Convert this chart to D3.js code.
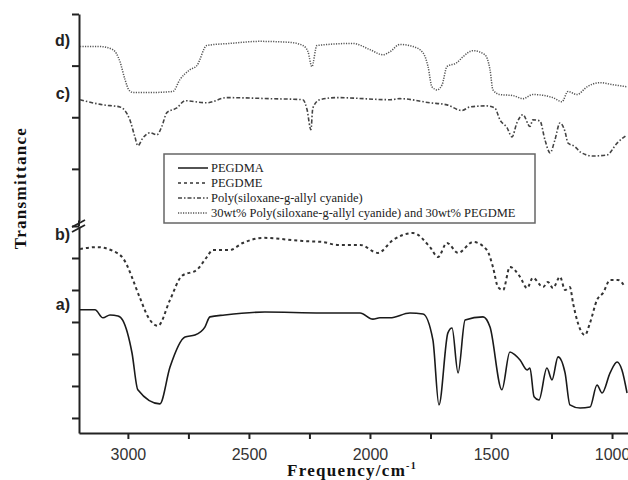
<!DOCTYPE html>
<meta charset="utf-8">
<style>
    body { margin: 0; background: #fff; }
    .tick text { font-family: "Liberation Sans", Arial, sans-serif; font-size: 16px; fill: #333; }
    .axis path, .axis line { stroke: #222; }
    .curve { fill: none; }
    .tag { font-family: "Liberation Sans", Arial, sans-serif; font-weight: bold; font-size: 16px; fill: #222; }
    .title { font-family: "Liberation Serif", "Times New Roman", serif; font-weight: bold; font-size: 17px; fill: #111; letter-spacing: 1.3px; }
    .legend text { font-family: "Liberation Serif", "Times New Roman", serif; font-size: 12.5px; fill: #222; }
</style>

<svg width="628" height="480"></svg>

<script src="https://d3js.org/d3.v7.min.js"></script>
<script>
// wavenumber (cm-1), transmittance (arbitrary, offset units)
var pegdma = [
    [3198,4.38],[3136,4.38],[3103,4.13],[3074,4.22],[3041,4.19],[3021,4.05],[2983,3.03],[2959,1.88],
    [2868,1.44],[2826,2.59],[2764,3.53],[2723,3.59],[2682,3.84],[2661,4.16],[2600,4.22],[2434,4.31],
    [2200,4.28],[2041,4.28],[1988,4.09],[1959,4.13],[1917,4.13],[1835,4.28],[1781,4.25],[1740,3.44],
    [1715,1.41],[1678,3.66],[1661,3.81],[1636,2.41],[1607,4.06],[1533,4.16],[1504,3.84],[1455,1.88],
    [1422,3.06],[1401,2.97],[1380,2.81],[1351,2.5],[1339,2.56],[1322,1.66],[1302,1.56],[1269,2.56],
    [1248,2.19],[1223,2.91],[1194,2.41],[1174,1.41],[1132,1.31],[1091,1.34],[1062,2.03],[1041,1.78],
    [1008,2.41],[979,2.75],[959,2.5],[938,1.78]
];
var pegdme = [
    [3198,6.28],[3128,6.34],[3062,6.22],[3021,6.0],[2950,4.75],[2917,4.16],[2876,3.88],[2826,4.69],
    [2777,5.44],[2715,5.63],[2674,6.03],[2649,6.25],[2579,6.25],[2525,6.47],[2442,6.63],[2277,6.53],
    [2194,6.5],[2136,6.41],[2041,6.41],[1967,6.16],[1905,6.56],[1822,6.78],[1752,6.34],[1719,6.03],
    [1682,6.47],[1636,6.16],[1574,6.5],[1517,6.25],[1492,5.72],[1471,5.09],[1450,5.0],[1422,5.72],
    [1380,5.41],[1351,5.06],[1327,5.38],[1285,5.09],[1265,5.25],[1244,5.06],[1215,5.41],[1194,5.0],
    [1174,5.09],[1161,4.59],[1141,3.97],[1112,3.59],[1091,3.97],[1062,4.69],[1037,4.91],[1008,5.31],
    [975,5.31],[946,5.09]
];
var siloxane = [
    [3198,2.34],[3103,2.24],[3033,2.2],[2992,1.95],[2971,1.62],[2959,1.45],[2938,1.6],[2909,1.7],
    [2880,1.66],[2860,1.82],[2839,2.09],[2798,2.18],[2764,2.32],[2674,2.28],[2591,2.38],[2413,2.36],
    [2277,2.34],[2260,2.15],[2244,1.76],[2236,2.18],[2207,2.34],[2136,2.38],[1917,2.34],[1876,2.36],
    [1752,2.28],[1682,2.24],[1620,2.13],[1587,2.2],[1517,2.22],[1484,2.18],[1463,1.95],[1434,1.8],
    [1413,1.62],[1393,1.89],[1368,2.05],[1339,1.82],[1327,1.95],[1298,1.93],[1277,1.56],[1256,1.31],
    [1236,1.56],[1215,1.89],[1194,1.72],[1182,1.5],[1153,1.43],[1132,1.33],[1079,1.25],[1021,1.27],
    [979,1.5],[938,1.66]
];
var blend = [
    [3198,3.37],[3116,3.37],[3062,3.31],[3033,3.08],[3012,2.73],[2996,2.53],[2979,2.48],[2897,2.48],
    [2814,2.5],[2785,2.73],[2744,2.92],[2715,3.0],[2674,3.39],[2579,3.43],[2455,3.47],[2331,3.45],
    [2277,3.39],[2256,3.27],[2240,2.98],[2219,3.39],[2070,3.43],[2000,3.31],[1946,3.21],[1917,3.27],
    [1876,3.41],[1822,3.37],[1781,3.25],[1760,2.98],[1744,2.59],[1723,2.53],[1702,2.63],[1682,2.98],
    [1640,3.06],[1616,3.17],[1574,3.29],[1525,3.21],[1504,2.92],[1492,2.53],[1463,2.44],[1409,2.42],
    [1368,2.36],[1327,2.44],[1244,2.38],[1207,2.3],[1182,2.5],[1145,2.44],[1103,2.59],[1050,2.67],
    [996,2.63],[938,2.59]
];
var xTicks = [3000, 2750, 2500, 2250, 2000, 1750, 1500, 1250, 1000];
var lowTicks = [1, 2, 3, 4, 5, 6, 7];
var highTicks = [1, 2, 3, 4];
var legendNames = ["PEGDMA", "PEGDME", "Poly(siloxane-g-allyl cyanide)",
    "30wt% Poly(siloxane-g-allyl cyanide) and 30wt% PEGDME"];
var tags = ["a)", "b)", "c)", "d)"];

var svg = d3.select("svg");
var mLeft = 79, mRight = 628, mBottom = 433, breakY = 222, mTop = 14;

var x = d3.scaleLinear().domain([3202, 934]).range([mLeft, mRight]);
var yLow = d3.scaleLinear().domain([0.53, 7]).range([mBottom, 226]);
var yHigh = d3.scaleLinear().domain([0, 4]).range([220.5, mTop]);

var styles = [
    { data: pegdma, y: yLow, color: "#1a1a1a", width: 1.6, dash: null, tagDy: 0 },
    { data: pegdme, y: yLow, color: "#333", width: 2, dash: "3,3", tagDy: -9 },
    { data: siloxane, y: yHigh, color: "#444", width: 1.6, dash: "4,2,1.5,2", tagDy: -1 },
    { data: blend, y: yHigh, color: "#555", width: 1.5, dash: "1.2,1.3", tagDy: -1 }
];

// x axis
var xAxis = svg.append("g").attr("class", "axis")
    .attr("transform", "translate(0," + mBottom + ")")
    .call(d3.axisBottom(x).tickValues(xTicks).tickSize(6).tickSizeOuter(0)
        .tickFormat(function(d) { return d % 500 === 0 ? d : ""; }));
xAxis.selectAll(".tick text").attr("dy", "1.1em");

// y axis, two parts with a break
svg.append("g").attr("class", "axis")
    .attr("transform", "translate(" + mLeft + ",0)")
    .call(d3.axisLeft(yLow).tickValues(lowTicks).tickSize(7).tickSizeOuter(0).tickFormat(""));
svg.append("g").attr("class", "axis")
    .attr("transform", "translate(" + mLeft + ",0)")
    .call(d3.axisLeft(yHigh).tickValues(highTicks).tickSize(7).tickSizeOuter(0).tickFormat(""));
svg.selectAll(".axis .domain").attr("stroke-width", 2);
svg.selectAll(".axis .tick line").attr("stroke-width", 2);
svg.append("line").attr("x1", mLeft).attr("x2", mLeft).attr("y1", yHigh(0)).attr("y2", yLow(7))
    .attr("stroke", "#222").attr("stroke-width", 2);

// break marks
[0, 5].forEach(function(o) {
    svg.append("line")
        .attr("x1", mLeft - 7).attr("y1", breakY + 5 + o)
        .attr("x2", mLeft + 6).attr("y2", breakY - 2 + o)
        .attr("stroke", "#222").attr("stroke-width", 1.8);
});

// curves
var g = svg.append("g");
styles.forEach(function(s) {
    var line = d3.line()
        .x(function(d) { return x(d[0]); })
        .y(function(d) { return s.y(d[1]); })
        .curve(d3.curveMonotoneX);
    g.append("path").attr("class", "curve")
        .datum(s.data)
        .attr("d", line)
        .attr("stroke", s.color)
        .attr("stroke-width", s.width)
        .attr("stroke-dasharray", s.dash);
});

// curve tags
styles.forEach(function(s, i) {
    svg.append("text").attr("class", "tag")
        .attr("x", 70).attr("y", s.y(s.data[0][1]) + s.tagDy)
        .attr("text-anchor", "end")
        .text(tags[i]);
});

// axis titles
var xt = svg.append("text").attr("class", "title")
    .attr("x", 352).attr("y", 476).attr("text-anchor", "middle");
xt.append("tspan").text("Frequency/cm");
xt.append("tspan").attr("dy", -7).attr("font-size", 10).text("-1");

svg.append("text").attr("class", "title")
    .attr("transform", "translate(26,188) rotate(-90)")
    .attr("text-anchor", "middle")
    .text("Transmittance");

// legend
var lg = svg.append("g").attr("class", "legend");
lg.append("rect").attr("x", 164).attr("y", 154).attr("width", 371).attr("height", 69)
    .attr("fill", "#fff").attr("stroke", "#666").attr("stroke-width", 1.5);
legendNames.forEach(function(name, i) {
    var yy = 168 + i * 15;
    lg.append("line").attr("x1", 178).attr("x2", 208).attr("y1", yy).attr("y2", yy)
        .attr("stroke", styles[i].color)
        .attr("stroke-width", i === 0 ? 1.5 : 1.3)
        .attr("stroke-dasharray", styles[i].dash);
    lg.append("text").attr("x", 211).attr("y", yy + 4).text(name);
});
</script>
